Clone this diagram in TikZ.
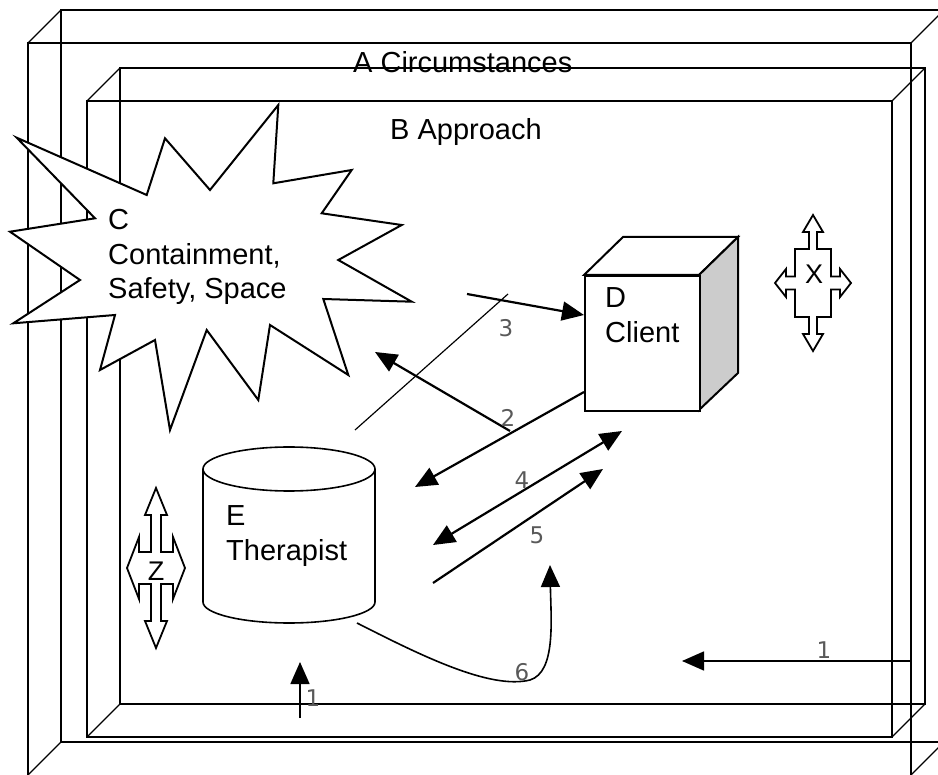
\documentclass[tikz,border=0pt]{standalone}
\usepackage{fontspec}
\setmainfont{Liberation Sans}
\newfontfamily\numfont{DejaVu Sans}
\usetikzlibrary{arrows.meta}
\begin{document}
\begin{tikzpicture}[x=1pt,y=-1pt,
  frame/.style={line width=1.2pt},
  bold/.style={line width=2pt, line join=miter},
  thinline/.style={line width=1.2pt},
  arr/.style={line width=2.2pt,-{Triangle[length=22pt,width=19pt]}},
  darr/.style={line width=2.2pt,{Triangle[length=22pt,width=19pt]}-{Triangle[length=22pt,width=19pt]}},
  lbl/.style={font=\fontsize{29}{34.5}\selectfont, inner sep=0pt, anchor=base west},
  sym/.style={font=\fontsize{27}{27}\selectfont, inner sep=0pt},
  num/.style={font=\numfont\fontsize{23}{23}\selectfont, text=black!65, inner sep=0pt},
  ]
\useasboundingbox (0,0) rectangle (938,775);
\begin{scope}
\clip (0,0) rectangle (938,775);
% box A (circumstances)
\draw[frame] (61,10) rectangle (944,742);
\draw[frame] (28,43) rectangle (911,780);
\draw[frame] (28,43)--(61,10) (911,43)--(944,10) (28,775)--(61,742) (911,775)--(944,742);
% box B (approach)
\draw[frame] (120,68) rectangle (925,704);
\draw[frame] (87,101) rectangle (892,737);
\draw[frame] (87,101)--(120,68) (892,101)--(925,68) (87,737)--(120,704) (892,737)--(925,704);
\end{scope}

\node[lbl] (A) at (353,73) {A Circumstances};
\node[lbl] (B) at (390,140) {B Approach};

% C starburst
\draw[bold, fill=white] (16.7,137.7) -- (146.7,195) -- (165,138.3) -- (210,190) -- (278.3,105)
  -- (273.3,183.3) -- (351.7,170) -- (321.7,213.3) -- (401.7,225) -- (338.3,260)
  -- (411.7,301.7) -- (323.3,299) -- (348.3,375) -- (270,325) -- (258.3,400)
  -- (206.7,330) -- (170,430) -- (155,340) -- (100,370) -- (115,315)
  -- (13.3,323.3) -- (80,280) -- (10,231.7) -- (95,218.3) -- cycle;
\node[lbl] (C) at (108,230) {\begin{tabular}[t]{@{}l@{}}C\\Containment,\\Safety, Space\end{tabular}};

% D cube
\draw[bold, fill=white] (584,275) -- (623,237) -- (738,237) -- (699,275) -- cycle;
\draw[bold, fill=black!20] (699,275) -- (738,237) -- (738,373) -- (699,410) -- cycle;
\node[draw, bold, fill=white, anchor=north west, minimum width=115pt, minimum height=135pt, inner sep=0pt] (Dbox) at (584,275) {};
\node[lbl] (D) at (605,308) {\begin{tabular}[t]{@{}l@{}}D\\Client\end{tabular}};

% E cylinder
\draw[line width=1.6pt] (203,469) -- (203,602) arc[start angle=180, end angle=0, x radius=86, y radius=21] -- (375,469);
\draw[line width=1.6pt] (289,469) ellipse [x radius=86, y radius=22];
\node[lbl] (E) at (226,526) {\begin{tabular}[t]{@{}l@{}}E\\Therapist\end{tabular}};

% X four-way arrow
\draw[line width=1.8pt, shift={(813,283)}] (0,-68) -- (10,-51) -- (4,-51) -- (4,-34) -- (18,-34) -- (18,-6.5) -- (27,-6.5) -- (27,-14) -- (38,0) -- (27,14) -- (27,6.5) -- (18,6.5) -- (18,34) -- (4,34) -- (4,51) -- (10,51) -- (0,68) -- (-10,51) -- (-4,51) -- (-4,34) -- (-18,34) -- (-18,6.5) -- (-27,6.5) -- (-27,14) -- (-38,0) -- (-27,-14) -- (-27,-6.5) -- (-18,-6.5) -- (-18,-34) -- (-4,-34) -- (-4,-51) -- (-10,-51) -- cycle;
\node[sym] (X) at (814,274) {X};

% Z four-way arrow
\draw[line width=1.8pt, shift={(156,568)}] (0,-80) -- (11,-53) -- (5,-53) -- (5,-16) -- (17,-16) -- (17,-31) -- (29,0) -- (17,31) -- (17,16) -- (5,16) -- (5,53) -- (11,53) -- (0,80) -- (-11,53) -- (-5,53) -- (-5,16) -- (-17,16) -- (-17,31) -- (-29,0) -- (-17,-31) -- (-17,-16) -- (-5,-16) -- (-5,-53) -- (-11,-53) -- cycle;
\node[sym] (Z) at (156,571) {Z};

% connector end points
\coordinate (t1) at (355,430); \coordinate (t2) at (508,294);
\coordinate (a3s) at (467,294); \coordinate (a3e) at (584,315);
\coordinate (a2s) at (510,431); \coordinate (a2e) at (375,352);
\coordinate (dS) at (584,392); \coordinate (dE) at (415,487);
\coordinate (a4s) at (433,545); \coordinate (a4e) at (622,431);
\coordinate (a5s) at (433,583); \coordinate (a5e) at (603,469);
\coordinate (a6s) at (357,623); \coordinate (a6m) at (530,680); \coordinate (a6e) at (550,565);
\coordinate (r1s) at (911,661); \coordinate (r1e) at (682,661);
\coordinate (b1s) at (300,718); \coordinate (b1e) at (300,662);

\draw[thinline] (t1) -- (t2);
\draw[arr] (a3s) -- (a3e);
\draw[arr] (a2s) -- (a2e);
\draw[arr] (dS) -- (dE);
\draw[darr] (a4s) -- (a4e);
\draw[arr] (a5s) -- (a5e);
\draw[line width=1.6pt,-{Triangle[length=22pt,width=19pt]}] (a6s) .. controls (420,655) and (490,690) .. (a6m) .. controls (556,672) and (551,620) .. (a6e);
\draw[line width=1.6pt,-{Triangle[length=22pt,width=19pt]}] (r1s) -- (r1e);
\draw[line width=1.6pt,-{Triangle[length=22pt,width=19pt]}] (b1s) -- (b1e);

% numbers
\node[num] (n3) at (506,328) {3};
\node[num] (n2) at (508,418) {2};
\node[num] (n4) at (522,480) {4};
\node[num] (n5) at (537,535) {5};
\node[num] (n6) at (522,672) {6};
\node[num] (n1r) at (824,650) {1};
\node[num] (n1b) at (313,698) {1};
\end{tikzpicture}
\end{document}
